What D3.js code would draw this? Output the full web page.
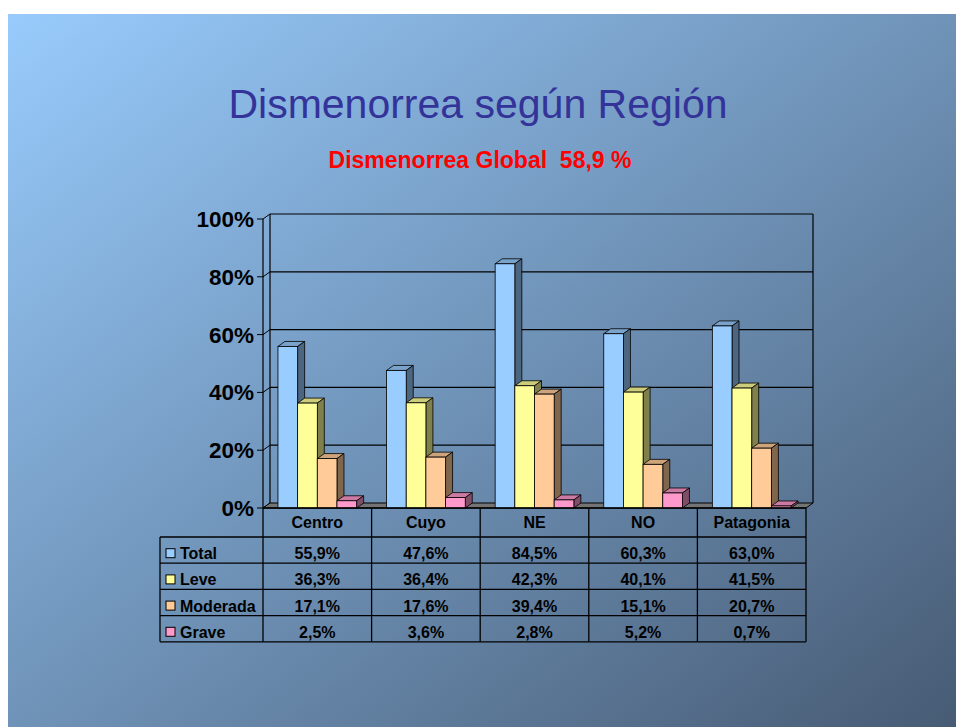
<!DOCTYPE html>
<html>
<head>
<meta charset="utf-8">
<script src="https://cdn.jsdelivr.net/npm/d3@7"></script>
<style>
  body { margin: 0; background: #fff; }
  svg { display: block; font-family: Arial, "Liberation Sans", sans-serif; }
</style>
</head>
<body>
<div class="chart"></div>
<script>
const categories = ['Centro', 'Cuyo', 'NE', 'NO', 'Patagonia']
const series = ['Total', 'Leve', 'Moderada', 'Grave']
const total = [55.9, 47.6, 84.5, 60.3, 63.0]
const leve = [36.3, 36.4, 42.3, 40.1, 41.5]
const moderada = [17.1, 17.6, 39.4, 15.1, 20.7]
const grave = [2.5, 3.6, 2.8, 5.2, 0.7]
const yTicks = [0, 20, 40, 60, 80, 100]

const values = [total, leve, moderada, grave]
const colors = ['#99ccff', '#ffff99', '#ffcc99', '#ff99cc']

const width = 956
const height = 727
const depth = {x: 7, y: -5}

const svg = d3.select('.chart')
  .append('svg')
  .attr('width', width)
  .attr('height', height)

// slide background
const grad = svg.append('defs').append('linearGradient')
  .attr('id', 'bg')
  .attr('x1', 0).attr('y1', 0).attr('x2', 1).attr('y2', 1)
grad.append('stop').attr('offset', 0).attr('stop-color', '#98cbfc')
grad.append('stop').attr('offset', 1).attr('stop-color', '#475b74')

svg.append('rect')
  .attr('x', 8).attr('y', 14)
  .attr('width', width - 8).attr('height', height - 14)
  .attr('fill', 'url(#bg)')

svg.append('text')
  .attr('x', 478).attr('y', 118)
  .attr('text-anchor', 'middle')
  .style('font-size', '41px')
  .attr('fill', '#333399')
  .text('Dismenorrea según Región')

svg.append('text')
  .attr('x', 480).attr('y', 168)
  .attr('text-anchor', 'middle')
  .style('font-size', '23px')
  .style('font-weight', 'bold')
  .style('white-space', 'pre')
  .attr('fill', '#ff0000')
  .text('Dismenorrea Global  58,9 %')

// scales
const x = d3.scaleBand()
  .domain(categories)
  .range([263, 806])

const x1 = d3.scaleBand()
  .domain(series)
  .range([0, x.bandwidth()])
  .paddingOuter(0.76)

const y = d3.scaleLinear()
  .domain([0, 100])
  .range([508, 219])

const plot = svg.append('g').attr('class', 'plot')

// back wall grid lines
plot.selectAll('line.grid')
  .data(yTicks.slice(1))
  .enter().append('line')
    .attr('class', 'grid')
    .attr('x1', x.range()[0] + depth.x)
    .attr('x2', x.range()[1] + depth.x)
    .attr('y1', d => y(d) + depth.y)
    .attr('y2', d => y(d) + depth.y)
    .attr('stroke', '#000')
    .attr('stroke-width', 1.2)

// side wall diagonals
plot.selectAll('line.side-grid')
  .data(yTicks)
  .enter().append('line')
    .attr('class', 'side-grid')
    .attr('x1', x.range()[0])
    .attr('x2', x.range()[0] + depth.x)
    .attr('y1', d => y(d))
    .attr('y2', d => y(d) + depth.y)
    .attr('stroke', '#000')
    .attr('stroke-width', 1)

// back wall verticals
plot.append('line')
  .attr('x1', x.range()[0] + depth.x).attr('x2', x.range()[0] + depth.x)
  .attr('y1', y(100) + depth.y).attr('y2', y(0) + depth.y)
  .attr('stroke', '#000').attr('stroke-width', 1.2)
plot.append('line')
  .attr('x1', x.range()[1] + depth.x).attr('x2', x.range()[1] + depth.x)
  .attr('y1', y(100) + depth.y).attr('y2', y(0) + depth.y)
  .attr('stroke', '#000').attr('stroke-width', 1.2)

// floor
const x0 = x.range()[0], xe = x.range()[1]
plot.append('polygon')
  .attr('points', [[x0, y(0)], [xe, y(0)], [xe + depth.x, y(0) + depth.y], [x0 + depth.x, y(0) + depth.y]].join(' '))
  .attr('fill', '#747474')
  .attr('stroke', '#000')
  .attr('stroke-width', 1)

// front axis
plot.append('line')
  .attr('x1', x0).attr('x2', x0)
  .attr('y1', y(100)).attr('y2', y(0))
  .attr('stroke', '#000').attr('stroke-width', 1.2)

plot.selectAll('line.tick')
  .data(yTicks)
  .enter().append('line')
    .attr('class', 'tick')
    .attr('x1', x0 - 6).attr('x2', x0)
    .attr('y1', d => y(d)).attr('y2', d => y(d))
    .attr('stroke', '#000')

plot.selectAll('text.ytick')
  .data(yTicks)
  .enter().append('text')
    .attr('class', 'ytick')
    .attr('x', 254)
    .attr('y', d => y(d) + 8)
    .attr('text-anchor', 'end')
    .style('font-size', '22.5px')
    .style('font-weight', 'bold')
    .text(d => d + '%')

// bars
function shade(c, k) {
  const col = d3.rgb(c)
  return d3.rgb(col.r * k, col.g * k, col.b * k).toString()
}

categories.forEach((cat, ci) => {
  series.forEach((s, si) => {
    const v = values[si][ci]
    const bx = x(cat) + x1(s)
    const bw = x1.bandwidth()
    const top = y(v)
    const bottom = y(0)
    const g = plot.append('g').attr('class', 'bar')

    g.append('polygon')
      .attr('points', [[bx, top], [bx + depth.x, top + depth.y], [bx + bw + depth.x, top + depth.y], [bx + bw, top]].join(' '))
      .attr('fill', shade(colors[si], 0.8))
      .attr('stroke', '#000').attr('stroke-width', 0.8)

    g.append('polygon')
      .attr('points', [[bx + bw, top], [bx + bw + depth.x, top + depth.y], [bx + bw + depth.x, bottom + depth.y], [bx + bw, bottom]].join(' '))
      .attr('fill', shade(colors[si], 0.5))
      .attr('stroke', '#000').attr('stroke-width', 0.8)

    g.append('rect')
      .attr('x', bx).attr('y', top)
      .attr('width', bw).attr('height', bottom - top)
      .attr('fill', colors[si])
      .attr('stroke', '#000').attr('stroke-width', 0.8)
  })
})

// data table
const headTop = 508, headBottom = 537
const rowH = 26.2
const tableLeft = 160

const table = svg.append('g').attr('class', 'table')
  .attr('stroke-width', 1.3)

table.append('line')
  .attr('x1', x0).attr('x2', xe).attr('y1', headTop).attr('y2', headTop)
  .attr('stroke', '#000')

table.selectAll('line.hrow')
  .data(d3.range(series.length + 1))
  .enter().append('line')
    .attr('class', 'hrow')
    .attr('x1', tableLeft).attr('x2', xe)
    .attr('y1', d => headBottom + d * rowH)
    .attr('y2', d => headBottom + d * rowH)
    .attr('stroke', '#000')

table.selectAll('line.vcol')
  .data(categories.map(c => x(c)).concat([xe]))
  .enter().append('line')
    .attr('class', 'vcol')
    .attr('x1', d => d).attr('x2', d => d)
    .attr('y1', headTop)
    .attr('y2', headBottom + series.length * rowH)
    .attr('stroke', '#000')

table.append('line')
  .attr('x1', tableLeft).attr('x2', tableLeft)
  .attr('y1', headBottom).attr('y2', headBottom + series.length * rowH)
  .attr('stroke', '#000')

table.selectAll('text.cat')
  .data(categories)
  .enter().append('text')
    .attr('class', 'cat')
    .attr('x', d => x(d) + x.bandwidth() / 2)
    .attr('y', headBottom - 9)
    .attr('text-anchor', 'middle')
    .attr('stroke', 'none')
    .style('font-size', '16px')
    .style('font-weight', 'bold')
    .text(d => d)

series.forEach((s, si) => {
  const rowBase = headBottom + (si + 1) * rowH - 4
  table.append('rect')
    .attr('x', 166).attr('y', rowBase - 10.5)
    .attr('width', 9).attr('height', 9)
    .attr('fill', colors[si])
    .attr('stroke', '#000').attr('stroke-width', 1)

  table.append('text')
    .attr('x', 180).attr('y', rowBase)
    .attr('stroke', 'none')
    .style('font-size', '16px')
    .style('font-weight', 'bold')
    .text(s)

  table.selectAll('text.val' + si)
    .data(categories)
    .enter().append('text')
      .attr('x', d => x(d) + x.bandwidth() / 2)
      .attr('y', rowBase)
      .attr('text-anchor', 'middle')
      .attr('stroke', 'none')
      .style('font-size', '16px')
      .style('font-weight', 'bold')
      .text((d, i) => values[si][i].toFixed(1).replace('.', ',') + '%')
})
</script>
</body>
</html>
